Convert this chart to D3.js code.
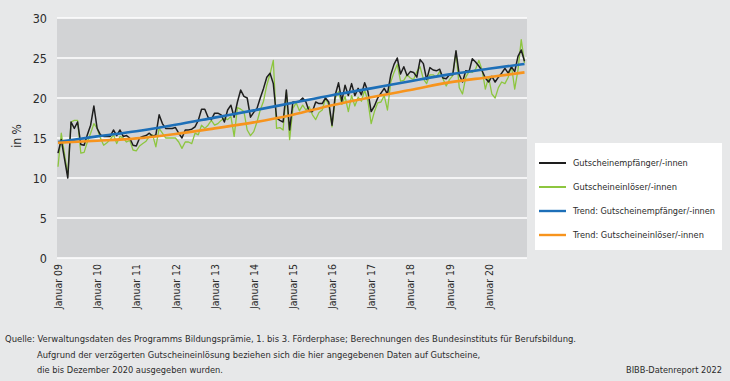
<!DOCTYPE html>
<html><head><meta charset="utf-8">
<script src="https://cdn.jsdelivr.net/npm/d3@7"></script>
<style>
html,body{margin:0;padding:0;background:#e7e8e9;}
svg{display:block;}
text{font-family:"Liberation Sans Narrow","DejaVu Sans Condensed","Roboto Condensed",Roboto,"Liberation Sans",sans-serif;fill:#2b2b2b;}
</style></head>
<body>
<svg id="c" width="730" height="381"></svg>
<script>
// ---- data ----
const yearLabels = ["Januar 09","Januar 10","Januar 11","Januar 12","Januar 13","Januar 14","Januar 15","Januar 16","Januar 17","Januar 18","Januar 19","Januar 20"];
const yTicks = [0,5,10,15,20,25,30];
// monthly values Jan 2009 .. Dec 2020 (in %)
const empfaenger = [
13.1,14.8,12.4,10.0,17.0,16.2,17.0,14.2,14.1,15.4,16.6,19.0,
16.2,15.4,15.2,15.2,15.2,16.0,15.3,16.0,15.2,15.3,15.0,14.1,
14.0,15.0,15.2,15.3,15.6,15.2,15.4,17.9,16.8,16.2,16.2,16.2,
16.3,15.6,15.0,16.0,16.0,16.1,16.4,17.2,18.6,18.6,17.6,17.3,
18.1,18.1,17.9,17.0,18.5,19.1,17.6,19.5,21.0,20.2,20.0,17.6,
18.2,18.7,20.0,21.2,22.6,23.1,21.8,17.5,17.2,17.0,21.0,16.0,
19.5,19.5,19.6,20.0,19.5,18.3,18.3,19.5,19.3,19.3,20.0,19.5,
16.6,20.4,21.9,19.6,21.6,20.3,21.8,20.3,21.2,20.4,21.9,20.8,
18.3,19.0,20.0,20.6,21.2,20.5,22.9,24.2,25.0,23.0,23.9,22.8,
23.3,23.2,22.6,24.8,24.3,22.3,23.8,23.5,23.4,23.6,22.5,22.4,
22.9,22.9,25.9,22.9,22.0,23.4,23.3,24.9,24.5,24.0,23.4,22.5,
22.0,22.7,22.0,22.6,23.1,23.7,23.1,23.9,23.3,25.2,26.0,24.6];
const einloeser = [
11.4,15.6,13.0,10.4,17.0,17.2,17.2,13.1,13.2,14.5,15.6,16.8,
16.2,15.0,14.1,14.4,14.8,15.4,14.3,15.2,15.0,14.5,14.7,13.5,
13.4,14.0,14.3,14.6,15.2,15.4,13.9,16.2,15.6,15.0,15.0,15.0,
15.0,14.5,13.7,14.5,14.5,14.3,15.6,15.4,16.6,16.2,16.6,17.2,
16.6,16.8,17.2,17.5,17.3,17.7,15.2,18.8,18.6,18.3,16.0,15.3,
15.8,17.0,18.5,19.6,21.6,23.0,24.7,16.2,16.3,16.0,20.8,14.8,
18.7,19.4,18.4,19.1,18.5,18.9,17.9,17.3,18.2,18.5,20.0,19.1,
16.4,20.0,20.8,19.2,20.2,18.3,20.3,19.0,20.1,19.6,21.0,19.6,
16.8,18.3,19.4,19.5,20.3,18.5,22.0,23.2,24.2,22.1,22.2,22.9,
22.5,22.3,23.3,23.9,22.4,21.8,22.9,22.9,22.6,23.3,22.4,21.5,
22.3,22.8,25.8,21.3,20.5,22.6,23.3,23.2,23.6,24.7,23.5,21.1,
22.6,20.5,20.0,21.3,22.0,21.8,22.6,24.0,21.1,23.5,27.3,24.4];
// trend lines read at yearly points (month index)
const trendIdx = [0,12,24,36,48,60,72,84,96,108,120,132,143];
const trendEmpf = [14.5,15.2,15.85,16.65,17.55,18.45,19.4,20.35,21.2,22.1,22.95,23.65,24.25];
const trendEinl = [14.4,14.65,14.95,15.5,16.2,16.95,17.9,19.1,20.1,21.0,21.95,22.6,23.2];
const seriesNames = ["Gutscheinempfänger/-innen","Gutscheineinlöser/-innen","Trend: Gutscheinempfänger/-innen","Trend: Gutscheineinlöser/-innen"];
const seriesColors = ["#1e1e1e","#8dc63f","#1d6fb8","#f7941d"];
const seriesWidths = [1.5,1.3,2.6,2.6];

// fit a text element to a target width by adjusting its font size
function fitSize(sel, w){
  sel.each(function(){
    const el = d3.select(this);
    const fs = parseFloat(el.attr("font-size"));
    const L = this.getComputedTextLength();
    if (L > 0 && Math.abs(L - w) > 1.5) el.attr("font-size", (fs * w / L).toFixed(2));
  });
}

// ---- chart ----
const svg = d3.select("#c");
const x = d3.scaleLinear().domain([0,143]).range([58,524.5]);
const y = d3.scaleLinear().domain([0,30]).range([258,18]);

svg.append("rect").attr("x",57).attr("y",y(30)).attr("width",470).attr("height",y(0)-y(30)).attr("fill","#d2d3d5");
svg.append("g").selectAll("line").data(yTicks).join("line")
  .attr("x1",57).attr("x2",527).attr("y1",d=>y(d)).attr("y2",d=>y(d))
  .attr("stroke","#ffffff").attr("stroke-width",1.4);

// y axis
const yAx = svg.append("g").attr("transform","translate(47,0)")
  .call(d3.axisLeft(y).tickValues(yTicks).tickSize(0).tickPadding(0));
yAx.select(".domain").remove();
yAx.selectAll("text").attr("font-size",12.5).style("font-family",null).attr("fill","#2b2b2b");

svg.append("text").attr("transform","translate(21,136) rotate(-90)")
  .attr("text-anchor","middle").attr("font-size",12).text("in %");

// x axis
const xAx = svg.append("g").attr("transform","translate(0,258)")
  .call(d3.axisBottom(x).tickValues(yearLabels.map((d,i)=>i*12)).tickFormat((d,i)=>yearLabels[i]).tickSize(0));
xAx.select(".domain").remove();
xAx.selectAll("text").attr("font-size",12).style("font-family",null).attr("fill","#2b2b2b")
  .attr("transform","rotate(-90)").attr("text-anchor","end")
  .attr("x",-6).attr("y",0).attr("dy","0.35em")
  .call(s=>fitSize(s,45));

// lines
const line = d3.line().x((d,i)=>x(i)).y(d=>y(d));
svg.append("path").datum(einloeser).attr("d",line).attr("fill","none")
  .attr("stroke",seriesColors[1]).attr("stroke-width",seriesWidths[1]).attr("stroke-linejoin","round");
svg.append("path").datum(empfaenger).attr("d",line).attr("fill","none")
  .attr("stroke",seriesColors[0]).attr("stroke-width",seriesWidths[0]).attr("stroke-linejoin","round");
const tline = d3.line().x(d=>x(d[0])).y(d=>y(d[1])).curve(d3.curveMonotoneX);
svg.append("path").datum(trendIdx.map((t,i)=>[t,trendEmpf[i]])).attr("d",tline).attr("fill","none")
  .attr("stroke",seriesColors[2]).attr("stroke-width",seriesWidths[2]);
svg.append("path").datum(trendIdx.map((t,i)=>[t,trendEinl[i]])).attr("d",tline).attr("fill","none")
  .attr("stroke",seriesColors[3]).attr("stroke-width",seriesWidths[3]);

// legend
const legendW = [115,104,142,131];
svg.append("rect").attr("x",535).attr("y",143).attr("width",187).attr("height",107).attr("fill","#ffffff");
const lg = svg.append("g").selectAll("g").data(seriesNames).join("g")
  .attr("transform",(d,i)=>`translate(539,${163+i*24})`);
lg.append("line").attr("x1",0).attr("x2",27).attr("stroke",(d,i)=>seriesColors[i]).attr("stroke-width",(d,i)=>i<2?2:2.4);
lg.append("text").attr("x",34).attr("dy","0.35em").attr("font-size",11.5).text(d=>d)
  .each(function(d,i){ fitSize(d3.select(this), legendW[i]); });

// footer
const foot = [
  {t:"Quelle: Verwaltungsdaten des Programms Bildungsprämie, 1. bis 3. Förderphase; Berechnungen des Bundesinstituts für Berufsbildung.", x:5, y:342, w:572},
  {t:"Aufgrund der verzögerten Gutscheineinlösung beziehen sich die hier angegebenen Daten auf Gutscheine,", x:37, y:358, w:444},
  {t:"die bis Dezember 2020 ausgegeben wurden.", x:37, y:373, w:186}
];
svg.append("g").selectAll("text").data(foot).join("text")
  .attr("x",d=>d.x).attr("y",d=>d.y).attr("font-size",12).text(d=>d.t)
  .each(function(d){ fitSize(d3.select(this), d.w); });
svg.append("text").attr("x",722).attr("y",373).attr("text-anchor","end").attr("font-size",12).text("BIBB-Datenreport 2022")
  .call(s=>fitSize(s,96));
</script>
</body></html>
